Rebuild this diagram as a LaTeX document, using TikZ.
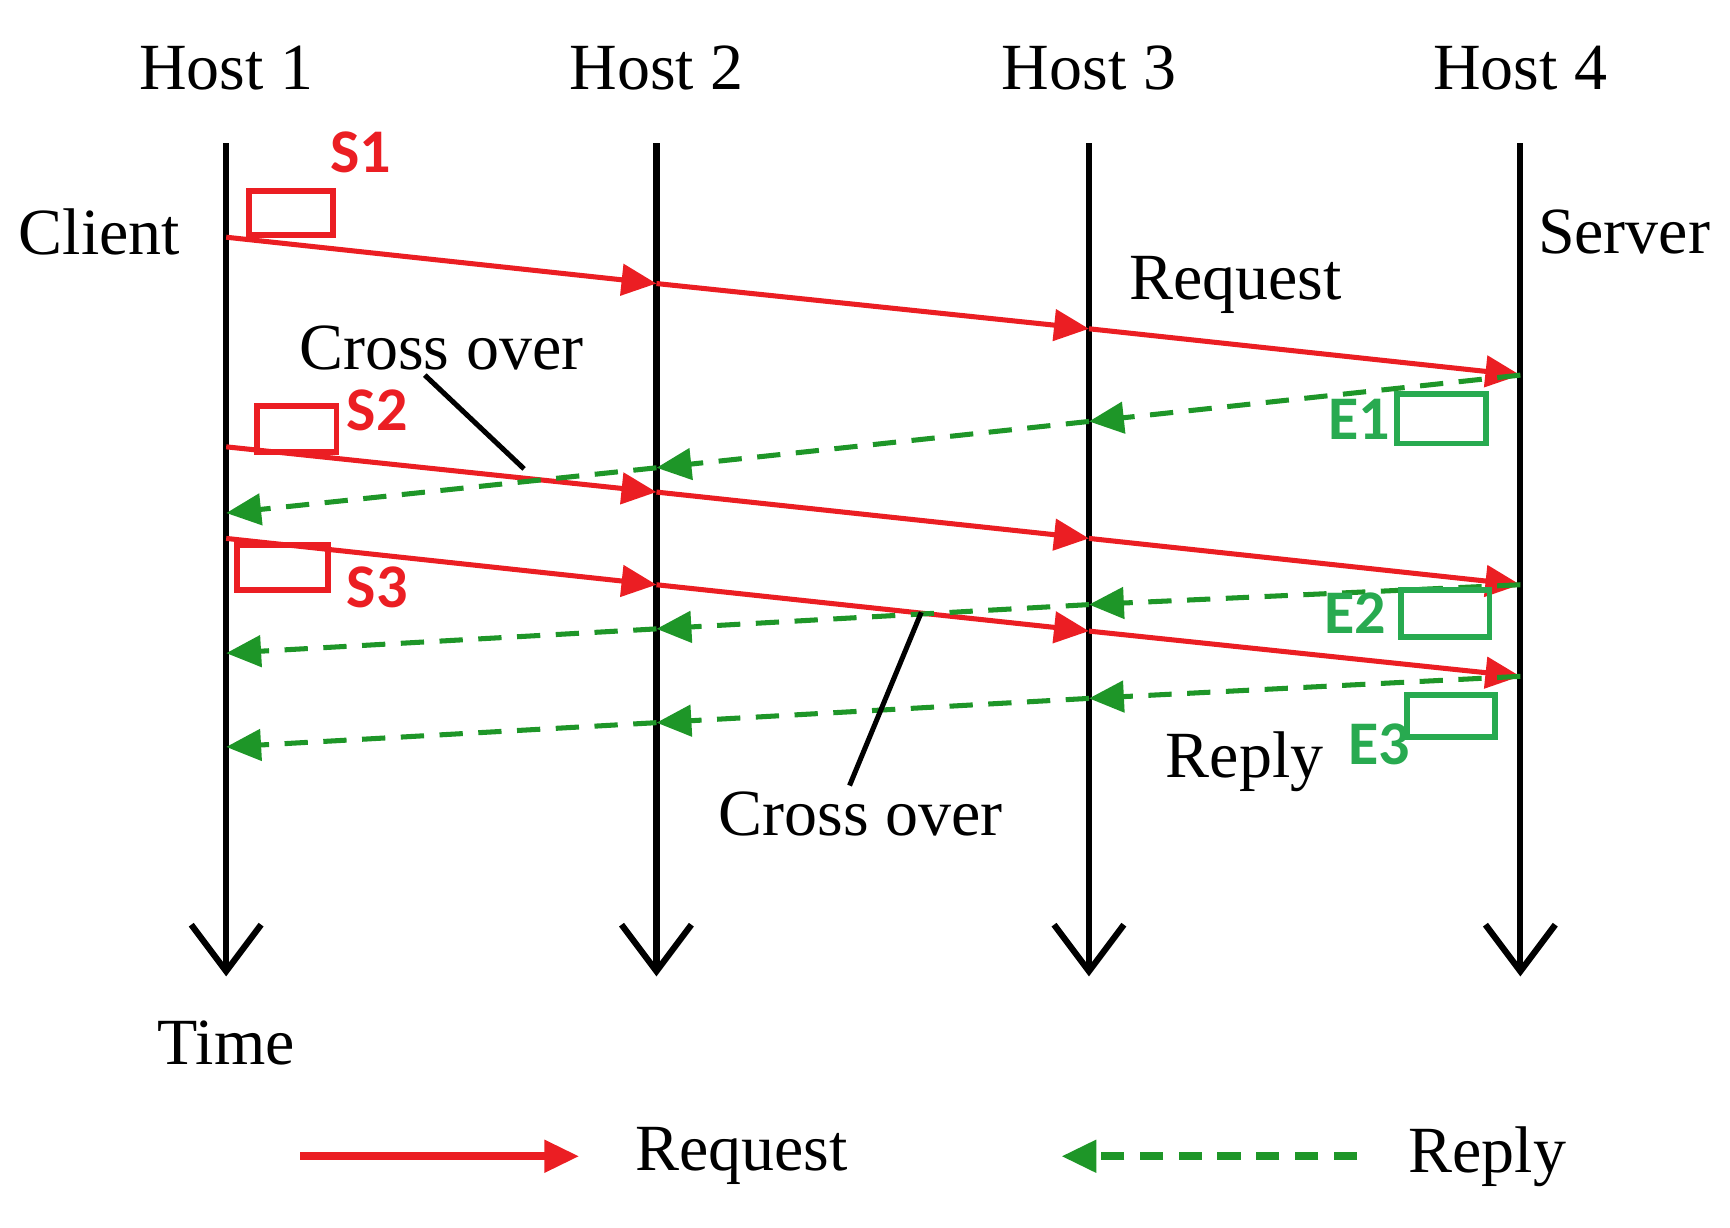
\documentclass[tikz,border=0pt]{standalone}
\usepackage{fontspec}
\setmainfont{Liberation Serif}
\newfontfamily\lab{Carlito}
\usetikzlibrary{arrows.meta}
\definecolor{req}{RGB}{235,30,35}
\definecolor{rep}{RGB}{30,150,40}
\definecolor{boxg}{RGB}{40,170,80}
\tikzset{
  big/.style={font=\fontsize{17}{20}\selectfont},
  tag/.style={font=\lab\bfseries\fontsize{16}{19}\selectfont},
  time/.style={line width=1.6pt,-{Straight Barb[length=12pt,width=18pt,line width=1.6pt]}},
  reqa/.style={req,line width=1.3pt,-{Triangle[length=9pt,width=8pt]}},
  repa/.style={rep,line width=1.3pt,dash pattern=on 6pt off 4pt,-{Triangle[length=9pt,width=8pt]}},
  sbox/.style={draw=req,line width=1.5pt},
  ebox/.style={draw=boxg,line width=1.5pt}
}
\begin{document}
\begin{tikzpicture}[x=0.01cm,y=-0.01cm]
\useasboundingbox (0,0) rectangle (1568,1113);
% host lines
\foreach \i/\x in {1/205,2/595,3/987,4/1378}{
  \coordinate (t\i) at (\x,130);
  \coordinate (b\i) at (\x,885);
  \node[big] (h\i) at (\x,62) {Host \i};
  \draw[time] (t\i) -- (b\i);
}
\node[big] (time) at (205,945) {Time};
\node[big] (client) at (90,210) {Client};
\node[big] (server) at (1472,210) {Server};
% request / reply points
\foreach \n/\a/\b/\c/\d in {s1/215/257/298/340,s2/405/446/488/530,s3/488/530/572/613}{
  \coordinate (\n a) at (205,\a); \coordinate (\n b) at (595,\b);
  \coordinate (\n c) at (987,\c); \coordinate (\n d) at (1378,\d);
  \draw[reqa] (\n a) -- (\n b); \draw[reqa] (\n b) -- (\n c); \draw[reqa] (\n c) -- (\n d);
}
\foreach \n/\a/\b/\c/\d in {e1/340/382/424/465,e2/530/548/570/592,e3/613/633/655/677}{
  \coordinate (\n a) at (1378,\a); \coordinate (\n b) at (987,\b);
  \coordinate (\n c) at (595,\c); \coordinate (\n d) at (205,\d);
  \draw[repa] (\n a) -- (\n b); \draw[repa] (\n b) -- (\n c); \draw[repa] (\n c) -- (\n d);
}
% boxes and tags
\draw[sbox] (226,173) rectangle (302,213);
\node[tag,text=req] (S1) at (327,138) {S1};
\draw[sbox] (233,368) rectangle (305,410);
\node[tag,text=req] (S2) at (342,372) {S2};
\draw[sbox] (215,494) rectangle (297,535);
\node[tag,text=req] (S3) at (342,532) {S3};
\draw[ebox] (1266,357) rectangle (1347,402);
\node[tag,text=boxg] (E1) at (1232,380) {E1};
\draw[ebox] (1270,535) rectangle (1350,577);
\node[tag,text=boxg] (E2) at (1228,556) {E2};
\draw[ebox] (1275,630) rectangle (1355,668);
\node[tag,text=boxg] (E3) at (1250,675) {E3};
% labels
\node[big] (rq) at (1120,258) {Request};
\node[big] (rp) at (1128,690) {Reply};
\node[big] (co1) at (400,315) {Cross over};
\node[big] (co2) at (780,738) {Cross over};
\coordinate (x1) at (475,425);
\coordinate (x2) at (835,555);
\draw[line width=1.3pt] (385,340) -- (x1);
\draw[line width=1.3pt] (770,712) -- (x2);
% legend
\coordinate (l1) at (272,1048); \coordinate (l2) at (525,1048);
\coordinate (l3) at (1230,1048); \coordinate (l4) at (962,1048);
\draw[reqa,line width=2pt] (l1) -- (l2);
\draw[repa,line width=2pt] (l3) -- (l4);
\node[big] (lq) at (672,1048) {Request};
\node[big] (lp) at (1348,1048) {Reply};
\end{tikzpicture}
\end{document}
